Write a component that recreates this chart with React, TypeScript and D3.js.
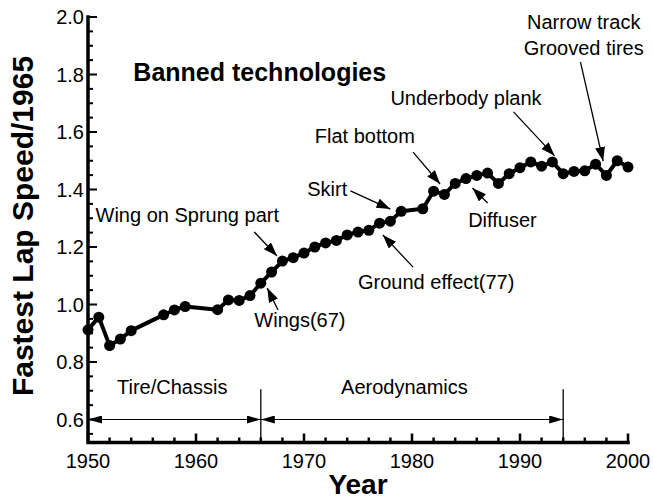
import React from "react";
import * as d3 from "d3";

// fastest lap speed, normalised by the 1965 value
const years = [
  1950, 1951, 1952, 1953, 1954, 1957, 1958, 1959, 1962, 1963, 1964, 1965,
  1966, 1967, 1968, 1969, 1970, 1971, 1972, 1973, 1974, 1975, 1976, 1977,
  1978, 1979, 1981, 1982, 1983, 1984, 1985, 1986, 1987, 1988, 1989, 1990,
  1991, 1992, 1993, 1994, 1995, 1996, 1997, 1998, 1999, 2000,
];
const speeds = [
  0.912, 0.956, 0.857, 0.88, 0.909, 0.964, 0.981, 0.993, 0.982, 1.016, 1.014,
  1.031, 1.074, 1.113, 1.151, 1.163, 1.179, 1.2, 1.214, 1.223, 1.242, 1.252,
  1.258, 1.283, 1.29, 1.324, 1.333, 1.394, 1.383, 1.421, 1.438, 1.449, 1.457,
  1.421, 1.455, 1.476, 1.496, 1.481, 1.496, 1.455, 1.463, 1.465, 1.488, 1.449,
  1.5, 1.478,
];

const xTicks = [1950, 1960, 1970, 1980, 1990, 2000];
const yTicks = [0.6, 0.8, 1.0, 1.2, 1.4, 1.6, 1.8, 2.0];

// era boundaries drawn along the bottom; label = where its name is centred
const eras = [
  { name: "Tire/Chassis", from: 1950, to: 1966, label: 1957.8 },
  { name: "Aerodynamics", from: 1966, to: 1994, label: 1979.3 },
];

// banned technologies: label anchor + arrow tail/tip in data coordinates
const notes = [
  { text: ["Wing on Sprung part"], at: [1950.7, 1.287], anchor: "start", tail: [1965.4, 1.252], tip: [1967.5, 1.169] },
  { text: ["Wings(67)"], at: [1965.4, 0.922], anchor: "start", tail: [1967.6, 0.981], tip: [1966.6, 1.057] },
  { text: ["Skirt"], at: [1970.3, 1.377], anchor: "start", tail: [1974.3, 1.395], tip: [1978.0, 1.332] },
  { text: ["Flat bottom"], at: [1971.0, 1.562], anchor: "start", tail: [1980.1, 1.53], tip: [1982.6, 1.419] },
  { text: ["Ground effect(77)"], at: [1975.0, 1.054], anchor: "start", tail: [1980.1, 1.13], tip: [1977.3, 1.242] },
  { text: ["Diffuser"], at: [1985.2, 1.27], anchor: "start", tail: [1987.0, 1.353], tip: [1985.6, 1.405] },
  { text: ["Underbody plank"], at: [1978.0, 1.694], anchor: "start", tail: [1989.4, 1.67], tip: [1993.2, 1.517] },
  { text: ["Narrow track", "Grooved tires"], at: [1995.9, 1.958], anchor: "middle", tail: [1995.6, 1.843], tip: [1997.7, 1.499] },
];

const W = 653;
const H = 499;
const font = "'Liberation Sans', Arial, Helvetica, sans-serif";

export default function App() {
  const x = d3.scaleLinear().domain([1950, 2000]).range([88, 628]);
  const y = d3.scaleLinear().domain([0.52, 2.0]).range([442.5, 17]);

  const line = d3
    .line<number>()
    .x((_, i) => x(years[i]))
    .y((d) => y(d));

  const minorX = d3.range(1950, 2001, 2);
  const minorY = d3.range(0.55, 2.0001, 0.05);
  const x0 = x(1950);
  const yb = y(0.52);

  return (
    <svg
      width={W}
      height={H}
      style={{ position: "absolute", left: 0, top: 0, background: "#fff" }}
      fontFamily={font}
    >
      <defs>
        <marker id="head" viewBox="0 0 14 10" refX="14" refY="5" markerWidth="14" markerHeight="10" markerUnits="userSpaceOnUse" orient="auto-start-reverse">
          <path d="M0,0L14,5L0,10z" fill="#000" />
        </marker>
        <marker id="eraHead" viewBox="0 0 14 8" refX="14" refY="4" markerWidth="14" markerHeight="8" markerUnits="userSpaceOnUse" orient="auto-start-reverse">
          <path d="M0,0L14,4L0,8z" fill="#000" />
        </marker>
      </defs>

      {/* ticks */}
      <g stroke="#000">
        {minorX.map((t) => (
          <line key={"mx" + t} x1={x(t)} x2={x(t)} y1={yb} y2={yb - (t % 10 === 0 ? 9 : 5)} strokeWidth={2.5} />
        ))}
        {minorY.map((t) => {
          const major = Math.abs(t * 5 - Math.round(t * 5)) < 1e-6;
          return <line key={"my" + t} x1={x0} x2={x0 + (major ? 9 : 5)} y1={y(t)} y2={y(t)} strokeWidth={2} />;
        })}
      </g>

      {/* axes */}
      <path d={`M${x0},${y(2.0)}V${yb}H${x(2000)}`} fill="none" stroke="#000" strokeWidth={3.5} strokeLinecap="square" />

      <g fontSize={20} fill="#000">
        {xTicks.map((t) => (
          <text key={t} x={x(t)} y={468} textAnchor="middle">{t}</text>
        ))}
        {yTicks.map((t) => (
          <text key={t} x={x0 - 4} y={y(t) + 7} textAnchor="end">{t.toFixed(1)}</text>
        ))}
      </g>

      <text x={(x0 + x(2000)) / 2} y={494} textAnchor="middle" fontSize={28} fontWeight="bold">Year</text>
      <text transform={`translate(33,226) rotate(-90)`} textAnchor="middle" fontSize={30} fontWeight="bold">
        Fastest Lap Speed/1965
      </text>

      {/* eras */}
      <g stroke="#000">
        {[1966, 1994].map((t) => (
          <line key={t} x1={x(t)} x2={x(t)} y1={yb} y2={y(0.705)} strokeWidth={1.3} />
        ))}
        {eras.map((e) => (
          <line key={e.name} x1={x(e.from)} x2={x(e.to)} y1={y(0.6)} y2={y(0.6)} strokeWidth={1} markerStart="url(#eraHead)" markerEnd="url(#eraHead)" />
        ))}
      </g>
      <g fontSize={20}>
        {eras.map((e) => (
          <text key={e.name} x={x(e.label)} y={y(0.6) - 26} textAnchor="middle">
            {e.name}
          </text>
        ))}
      </g>

      {/* data */}
      <path d={line(speeds) ?? ""} fill="none" stroke="#000" strokeWidth={4} strokeLinejoin="round" />
      {speeds.map((s, i) => (
        <circle key={years[i]} cx={x(years[i])} cy={y(s)} r={5.5} fill="#000" />
      ))}

      {/* annotations */}
      <text x={x(1954.2)} y={y(1.777)} fontSize={25} fontWeight="bold">Banned technologies</text>
      {notes.map((n) => (
        <g key={n.text[0]}>
          <line x1={x(n.tail[0])} y1={y(n.tail[1])} x2={x(n.tip[0])} y2={y(n.tip[1])} stroke="#000" strokeWidth={1.3} markerEnd="url(#head)" />
          {n.text.map((t, k) => (
            <text key={t} x={x(n.at[0])} y={y(n.at[1]) + k * 26} fontSize={20} textAnchor={n.anchor}>{t}</text>
          ))}
        </g>
      ))}
    </svg>
  );
}
